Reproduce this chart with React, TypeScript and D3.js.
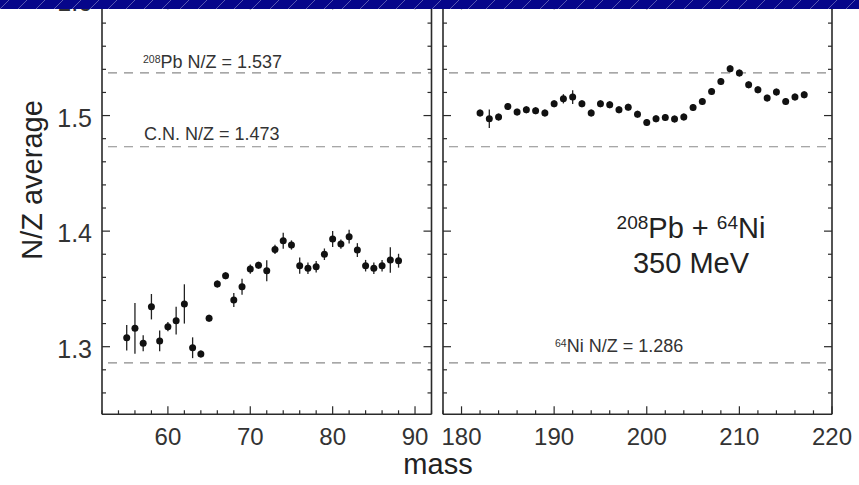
import React from "react";
import * as d3 from "d3";

// ---------- data ----------
const leftMass = [55,56,57,58,59,60,61,62,63,64,65,66,67,68,69,70,71,72,73,74,75,76,77,78,79,80,81,82,83,84,85,86,87,88];
const leftNZ = [1.3078,1.3159,1.303,1.3346,1.305,1.3173,1.3225,1.337,1.2991,1.2937,1.3246,1.3542,1.3614,1.3404,1.3519,1.3672,1.3705,1.3657,1.3842,1.3917,1.388,1.3701,1.3678,1.3692,1.38,1.3932,1.3888,1.3952,1.3836,1.3701,1.3678,1.3701,1.375,1.3744];
const leftErr = [0.011,0.022,0.007,0.011,0.009,0.004,0.012,0.017,0.009,0.003,0.003,0.003,0.003,0.006,0.007,0.004,0.003,0.009,0.004,0.007,0.004,0.007,0.005,0.005,0.005,0.007,0.004,0.006,0.006,0.005,0.005,0.005,0.011,0.006];

const rightMass = [182,183,184,185,186,187,188,189,190,191,192,193,194,195,196,197,198,199,200,201,202,203,204,205,206,207,208,209,210,211,212,213,214,215,216,217];
const rightNZ = [1.5022,1.4972,1.4987,1.5079,1.503,1.505,1.5042,1.5022,1.5102,1.5145,1.516,1.5102,1.5022,1.5102,1.5093,1.505,1.5073,1.5012,1.494,1.4972,1.4984,1.497,1.4987,1.507,1.5122,1.5208,1.5295,1.5405,1.5368,1.5266,1.5223,1.5151,1.5203,1.5122,1.516,1.518];
const rightErr = [0.003,0.008,0.003,0.003,0.003,0.003,0.003,0.003,0.003,0.004,0.006,0.003,0.003,0.003,0.003,0.003,0.003,0.003,0.003,0.003,0.003,0.003,0.003,0.003,0.003,0.003,0.003,0.003,0.003,0.003,0.003,0.003,0.003,0.003,0.003,0.003];

const leftXTicks = [60, 70, 80, 90];
const rightXTicks = [180, 190, 200, 210, 220];
const yTicks = [1.3, 1.4, 1.5, 1.6];

const refLines = [
  { panel: "left", value: 1.537 },
  { panel: "left", value: 1.473 },
  { panel: "left", value: 1.286 },
  { panel: "right", value: 1.537 },
  { panel: "right", value: 1.473 },
  { panel: "right", value: 1.286 },
];

// ---------- layout ----------
const W = 859, H = 485;
const TOP = 0, BOTTOM = 414.3;
const FONT = "'Liberation Sans', Arial, Helvetica, sans-serif";

const y = d3.scaleLinear().domain([1.2415, 1.6]).range([BOTTOM, TOP]);
const xL = d3.scaleLinear().domain([52, 92]).range([102, 431.5]);
const xR = d3.scaleLinear().domain([178, 220]).range([443, 832]);

function range(a: number, b: number, s: number) {
  const out: number[] = [];
  for (let v = a; v <= b + 1e-9; v += s) out.push(+v.toFixed(4));
  return out;
}

function Panel({ x, majorX, data, err, mass }: any) {
  const [x0, x1] = x.range();
  const [d0, d1] = x.domain();
  const minorX = range(Math.ceil(d0 / 2) * 2, d1, 2);
  const minorY = range(1.26, 1.6, 0.02);
  const ink = "#2a2a2a";
  return (
    <g>
      {minorX.map((v: number) => {
        const major = majorX.includes(v);
        const L = major ? 8 : 4;
        return (
          <g key={"x" + v}>
            <line x1={x(v)} x2={x(v)} y1={BOTTOM} y2={BOTTOM - L} stroke={ink} strokeWidth={1.2} />
            <line x1={x(v)} x2={x(v)} y1={TOP} y2={TOP + L + 2} stroke={major ? "#bbb" : "none"} strokeWidth={1.2} />
          </g>
        );
      })}
      {minorY.map((v: number) => {
        const major = Math.abs(v * 10 - Math.round(v * 10)) < 1e-6;
        const L = major ? 8 : 4;
        return (
          <g key={"y" + v}>
            <line x1={x0} x2={x0 + L} y1={y(v)} y2={y(v)} stroke={ink} strokeWidth={1.2} />
            <line x1={x1} x2={x1 - L} y1={y(v)} y2={y(v)} stroke={ink} strokeWidth={1.2} />
          </g>
        );
      })}
      <line x1={x0} x2={x0} y1={TOP} y2={BOTTOM} stroke={ink} strokeWidth={1.6} />
      <line x1={x1} x2={x1} y1={TOP} y2={BOTTOM} stroke={ink} strokeWidth={1.6} />
      <line x1={x0} x2={x1} y1={BOTTOM} y2={BOTTOM} stroke={ink} strokeWidth={1.6} />
      {mass.map((m: number, i: number) => (
        <g key={"p" + m}>
          <line x1={x(m)} x2={x(m)} y1={y(data[i] - err[i])} y2={y(data[i] + err[i])} stroke="#222" strokeWidth={1.3} />
          <circle cx={x(m)} cy={y(data[i])} r={3.5} fill="#111" />
        </g>
      ))}
      {majorX.map((v: number) => (
        <text key={"xl" + v} x={x(v)} y={445} textAnchor="middle" fontSize={24} fill="#333" fontFamily={FONT}>
          {v}
        </text>
      ))}
    </g>
  );
}

export default function App() {
  return (
    <svg width={W} height={H} style={{ position: "absolute", left: 0, top: 0, background: "#fff" }} fontFamily={FONT}>
      <defs>
        <pattern id="diag" width={18} height={9} patternUnits="userSpaceOnUse">
          <rect width={18} height={9} fill="#06068a" />
          <line x1={0} y1={9} x2={9} y2={0} stroke="#6d6dbb" strokeWidth={0.8} />
        </pattern>
      </defs>
      <rect width={W} height={H} fill="#fff" />

      {refLines.map((r, i) => {
        const x = r.panel === "left" ? xL : xR;
        const [a, b] = x.range();
        return (
          <line key={"r" + i} x1={a + 6} x2={b} y1={y(r.value)} y2={y(r.value)} stroke="#8a8a8a" strokeWidth={1.2} strokeDasharray="9,7" />
        );
      })}

      <Panel x={xL} majorX={leftXTicks} data={leftNZ} err={leftErr} mass={leftMass} />
      <Panel x={xR} majorX={rightXTicks} data={rightNZ} err={rightErr} mass={rightMass} />

      {yTicks.map((v) => (
        <text key={"yl" + v} x={92} y={y(v) + 2} dy="0.36em" textAnchor="end" fontSize={25} fill="#333">
          {v.toFixed(1)}
        </text>
      ))}

      <text x={143} y={68} fontSize={18} fill="#333">
        <tspan fontSize={10.5} dy={-5}>208</tspan>
        <tspan dy={5}>Pb N/Z = 1.537</tspan>
      </text>
      <text x={144} y={140} fontSize={18} fill="#333">C.N. N/Z = 1.473</text>
      <text x={555} y={352} fontSize={18} fill="#333">
        <tspan fontSize={10.5} dy={-5}>64</tspan>
        <tspan dy={5}>Ni N/Z = 1.286</tspan>
      </text>

      <text x={691} y={238} fontSize={29} textAnchor="middle" fill="#222">
        <tspan fontSize={19} dy={-9}>208</tspan>
        <tspan dy={9}>Pb + </tspan>
        <tspan fontSize={19} dy={-9}>64</tspan>
        <tspan dy={9}>Ni</tspan>
      </text>
      <text x={691} y={273} fontSize={29} textAnchor="middle" fill="#222">350 MeV</text>

      <text x={438} y={474} fontSize={29} textAnchor="middle" fill="#222">mass</text>
      <text transform="translate(42,180) rotate(-90)" fontSize={29} textAnchor="middle" fill="#222">N/Z average</text>

      <rect x={0} y={0} width={W} height={9} fill="url(#diag)" />
    </svg>
  );
}
